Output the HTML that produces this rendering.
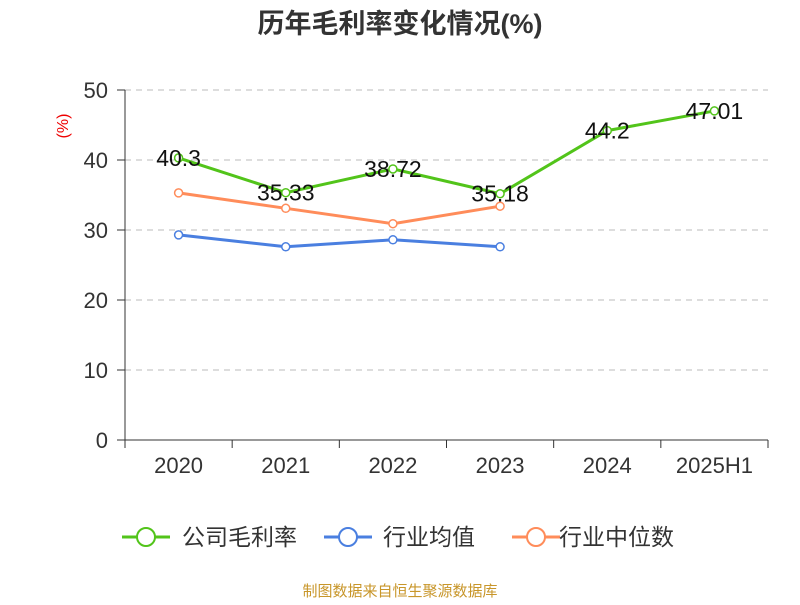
<!DOCTYPE html>
<html><head><meta charset="utf-8"><style>
body{margin:0;background:#fff;font-family:"Liberation Sans","Noto Sans CJK SC",sans-serif}
</style></head><body>
<svg width="800" height="600" xmlns="http://www.w3.org/2000/svg" font-family="Liberation Sans, Noto Sans CJK SC, sans-serif">
<text x="400" y="33" text-anchor="middle" font-size="27" font-weight="bold" fill="#333">历年毛利率变化情况(%)</text>
<text transform="translate(68,126) rotate(-90)" text-anchor="middle" font-size="16" fill="#e00">(%)</text>
<g id="grid"></g><g id="axes"></g><g id="series"></g>
<g>
<g><line x1="122" y1="537" x2="170" y2="537" stroke="#52c41a" stroke-width="3"/><circle cx="146" cy="537" r="9" fill="#fff" stroke="#52c41a" stroke-width="2"/><text x="182" y="545" font-size="23" fill="#333">公司毛利率</text></g>
<g><line x1="324" y1="537" x2="372" y2="537" stroke="#4a7fe0" stroke-width="3"/><circle cx="348" cy="537" r="9" fill="#fff" stroke="#4a7fe0" stroke-width="2"/><text x="383" y="545" font-size="23" fill="#333">行业均值</text></g>
<g><line x1="512" y1="537" x2="560" y2="537" stroke="#ff8c5a" stroke-width="3"/><circle cx="536" cy="537" r="9" fill="#fff" stroke="#ff8c5a" stroke-width="2"/><text x="559" y="545" font-size="23" fill="#333">行业中位数</text></g>
</g>
<text x="400" y="596" text-anchor="middle" font-size="15" fill="#c8962a">制图数据来自恒生聚源数据库</text>
</svg>
<script>
const categories=["2020","2021","2022","2023","2024","2025H1"];
const company=[40.3,35.33,38.72,35.18,44.2,47.01];
const companyLabels=["40.3","35.33","38.72","35.18","44.2","47.01"];
const industryAvg=[29.3,27.6,28.6,27.6];
const industryMedian=[35.3,33.1,30.9,33.4];
const yTicks=[0,10,20,30,40,50];
const NS="http://www.w3.org/2000/svg";
const x0=125,x1=768,y0=440,y1=90;
const bw=(x1-x0)/categories.length;
const xs=i=>x0+bw*(i+0.5);
const ys=v=>y0-(v/50)*(y0-y1);
function mk(p,t,a){const e=document.createElementNS(NS,t);for(const k in a)e.setAttribute(k,a[k]);p.appendChild(e);return e;}
const g=document.getElementById('grid'),ax=document.getElementById('axes'),s=document.getElementById('series');
yTicks.forEach(v=>{
 if(v>0){const l=mk(g,'line',{x1:x0,x2:x1,y1:ys(v),y2:ys(v),stroke:'#bbb','stroke-dasharray':'6,5'});
 
 }
 const t=mk(ax,'text',{x:x0-17,y:ys(v)+8,'text-anchor':'end','font-size':22,fill:'#333'});t.textContent=v;
 
 
 mk(ax,'line',{x1:x0-8,x2:x0,y1:ys(v),y2:ys(v),stroke:'#333'});
});
mk(ax,'line',{x1:x0,x2:x0,y1:y1,y2:y0,stroke:'#333'});
mk(ax,'line',{x1:x0,x2:x1,y1:y0,y2:y0,stroke:'#333'});
categories.forEach((c,i)=>{
 mk(ax,'line',{x1:x0+bw*i,x2:x0+bw*i,y1:y0,y2:y0+8,stroke:'#333'});
 const t=mk(ax,'text',{x:xs(i),y:y0+33,'text-anchor':'middle','font-size':22,fill:'#333'});t.textContent=c;
 
 
});
mk(ax,'line',{x1:x1,x2:x1,y1:y0,y2:y0+8,stroke:'#333'});
function series(vals,color,name){
 const p=mk(s,'polyline',{points:vals.map((v,i)=>xs(i)+','+ys(v)).join(' '),fill:'none',stroke:color,'stroke-width':3});
 
 
 vals.forEach((v,i)=>{const c=mk(s,'circle',{cx:xs(i),cy:ys(v),r:4,fill:'#fff',stroke:color,'stroke-width':1.5});
 
 });
}
series(industryMedian,'#ff8c5a','industry-median');
series(industryAvg,'#4a7fe0','industry-avg');
series(company,'#52c41a','company');
company.forEach((v,i)=>{const t=mk(s,'text',{x:xs(i),y:ys(v)+8,'text-anchor':'middle','font-size':23,fill:'#111'});t.textContent=companyLabels[i];
 
 });
</script>
</body></html>
